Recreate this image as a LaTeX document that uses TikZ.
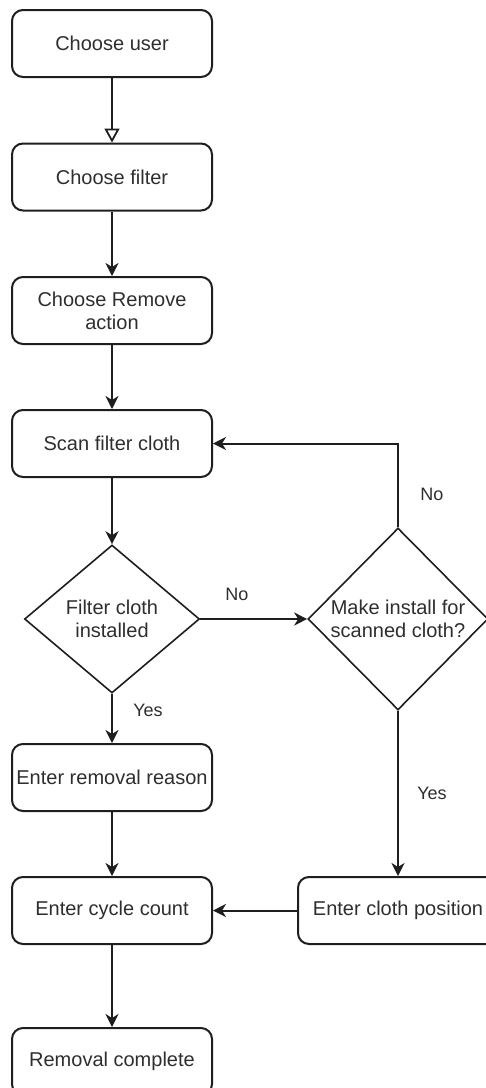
\documentclass[tikz,border=0pt]{standalone}
\usepackage{fontspec}
\setmainfont{Liberation Sans}
\usetikzlibrary{shapes.geometric,arrows.meta}
\definecolor{ink}{HTML}{2E2E2E}
\definecolor{wire}{HTML}{1E1E1E}
\begin{document}
\begin{tikzpicture}[x=1pt,y=-1pt,
  every node/.style={text=ink, font=\fontsize{20}{23}\selectfont},
  stepbox/.style={draw=wire, line width=2pt, rounded corners=11pt,
    minimum width=200pt, minimum height=67pt, align=center, inner sep=0pt},
  decision/.style={draw=wire, line width=1.6pt, diamond, align=center, inner sep=0pt},
  flow/.style={draw=wire, line width=2pt, -{Stealth[length=13pt,width=13pt,inset=4pt]}},
  openflow/.style={draw=wire, line width=1.8pt, -{Triangle[open,length=14pt,width=15pt]}},
  lbl/.style={font=\fontsize{18}{21}\selectfont, inner sep=0pt}]
\useasboundingbox (0,0) rectangle (486,1088);

% main column
\node[stepbox] (user)     at (112,43.5)  {Choose user};
\node[stepbox] (filter)   at (112,177)   {Choose filter};
\node[stepbox] (remove)   at (112,310.5) {Choose Remove\\action};
\node[stepbox] (scan)     at (112,443.5) {Scan filter cloth};
\node[decision, minimum width=175pt, minimum height=148pt] (installed) at (112,619) {Filter cloth\\installed};
\node[stepbox] (reason)   at (112,777.5) {Enter removal reason};
\node[stepbox] (cycle)    at (112,910.5) {Enter cycle count};
\node[stepbox] (complete) at (112,1061.5) {Removal complete};

% right-hand branch
\node[decision, minimum width=180pt, minimum height=182pt] (makeinstall) at (398,619) {Make install for\\scanned cloth?};
\node[stepbox] (position) at (398,910.5) {Enter cloth position};

% connectors
\draw[openflow] (user) -- (filter);
\draw[flow] (filter) -- (remove);
\draw[flow] (remove) -- (scan);
\draw[flow] (scan) -- (installed);
\draw[flow] (installed) -- (makeinstall);
\draw[flow] (makeinstall.north) |- (scan.east);
\draw[flow] (installed.south) -- (reason.north);
\draw[flow] (makeinstall.south) -- (position.north);
\draw[flow] (reason) -- (cycle);
\draw[flow] (position) -- (cycle);
\draw[flow] (cycle) -- (complete);

% branch labels
\node[lbl] (noright)  at (237,594) {No};
\node[lbl] (noup)     at (432,494) {No};
\node[lbl] (yesdown)  at (148,710) {Yes};
\node[lbl] (yesright) at (432,793) {Yes};
\end{tikzpicture}
\end{document}
